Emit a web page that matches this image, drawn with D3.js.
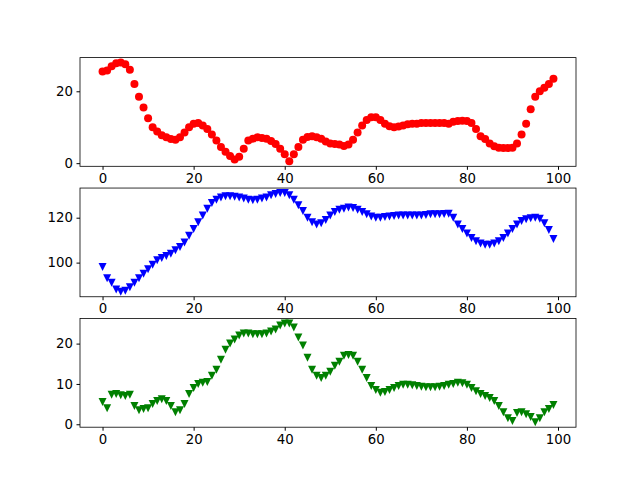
<!DOCTYPE html>
<html>
<head>
<meta charset="utf-8">
<script src="https://cdn.jsdelivr.net/npm/d3@7"></script>
<style>
  body { margin: 0; background: #fff; }
  text { font-family: "DejaVu Sans", sans-serif; }
</style>
</head>
<body>
<svg id="chart" width="640" height="480"></svg>
<script>
// Values, index 0..99
const redValues = [25.5,25.8,27,27.8,28,27.5,26,22,18.5,15.5,12.5,10,8.8,7.8,7.2,6.7,6.5,7.2,8.5,10,
  11,11.2,10.5,9.5,8,6.3,4.5,3.2,2,1,1.8,4,6.3,6.8,7.2,7,6.8,6.2,5.3,4,
  2.5,0.5,2.5,4.5,6.5,7.3,7.5,7.2,6.8,6,5.5,5.3,5.2,4.8,5.2,6.5,8.5,10.5,12,12.8,
  12.8,12,11,10.3,10,10.2,10.5,10.8,11,11,11.2,11.2,11.2,11.2,11.2,11.2,11,11.5,11.7,11.8,
  11.7,11.2,9.5,7.5,6.7,5.5,4.7,4.3,4.2,4.2,4.3,5.5,8,11,15,18.5,20,21,22,23.5];
const blueValues = [98,93,91,88,87,87.5,89,91,93,95,97,99,101,102,103,104,105.5,107,109,112,
  115,118,121,124,126.5,128,129,129.5,129.5,129.3,129,128.5,128,127.8,128,128.5,129,130,130.5,131,
  131,130,128,125.5,123,120,118,117,117.5,119,121,122.5,123.5,124,124.5,124.3,123.5,122.5,121.5,120.5,
  120,120,120.3,120.5,120.7,121,121,121,121,121,121,121.2,121.5,121.5,121.5,121.7,121.8,120,117,115,
  113,111,109.5,108.5,108,108,108.5,109.5,111,113,115,117,118.5,119.3,119.7,120,119.5,117.5,114.5,110.5];
const greenValues = [5.5,4,7.3,7.5,7.2,7,7.3,4.5,3.5,3.8,4,5,5.8,6.2,5.8,4.5,3,3.5,5,7.5,
  9,10,10.3,10.5,12,13.5,16,18.5,20,21,22,22.5,22.5,22.3,22.3,22.3,22.5,23,23.5,24.5,
  25,25,24,21.5,19.5,16.5,13.5,12,11.5,12,13,14.5,15.5,17,17.2,17,15.5,13.5,11.5,9.5,
  8.5,7.8,8,8.5,9,9.5,9.8,9.8,9.7,9.5,9.3,9.2,9.2,9.2,9.3,9.5,9.8,10,10.3,10.2,
  9.8,9,8.2,7.5,7,6.5,5.8,4.5,3,1.5,0.8,2.8,3,2.5,1.8,0.5,1.5,3,3.8,4.8];
const xTicks = [0, 20, 40, 60, 80, 100];

const panels = [
  { values: redValues, color: "#ff0000", marker: "circle", yTicks: [0, 20] },
  { values: blueValues, color: "#0000ff", marker: "tri", yTicks: [100, 120] },
  { values: greenValues, color: "#008000", marker: "tri", yTicks: [0, 10, 20] }
];

const svg = d3.select("#chart");
const mLeft = 80, mRight = 576, mTop = 57.6, mBottom = 427.2;
const h = (mBottom - mTop) / 3.4;

const x = d3.scaleLinear().domain([-4.95, 103.95]).range([mLeft, mRight]);

panels.forEach((p, i) => {
  const y0 = mTop + i * h * 1.2;
  const ext = d3.extent(p.values);
  const pad = (ext[1] - ext[0]) * 0.05;
  const y = d3.scaleLinear().domain([ext[0] - pad, ext[1] + pad]).range([y0 + h, y0]);
  const g = svg.append("g");

  g.append("g").attr("transform", `translate(0,${y0 + h})`)
    .call(d3.axisBottom(x).tickValues(xTicks).tickSize(3.5).tickPadding(3.5));
  g.append("g").attr("transform", `translate(${mLeft},0)`)
    .call(d3.axisLeft(y).tickValues(p.yTicks).tickSize(3.5).tickPadding(3.5));
  g.selectAll(".domain").remove();
  g.selectAll("text").attr("font-size", "13.3px").attr("fill", "#000");

  const tri = "M-4,-4L4,-4L0,4Z";
  g.append("g").selectAll("path").data(p.values).join("path")
    .attr("transform", (d, j) => `translate(${x(j)},${y(d)})`)
    .attr("fill", p.color)
    .attr("d", p.marker === "circle" ? d3.symbol(d3.symbolCircle, Math.PI * 16)() : tri);

  g.append("rect").attr("x", mLeft).attr("y", y0).attr("width", mRight - mLeft).attr("height", h)
    .attr("fill", "none").attr("stroke", "#000").attr("stroke-width", 0.8);
});
</script>
</body>
</html>
